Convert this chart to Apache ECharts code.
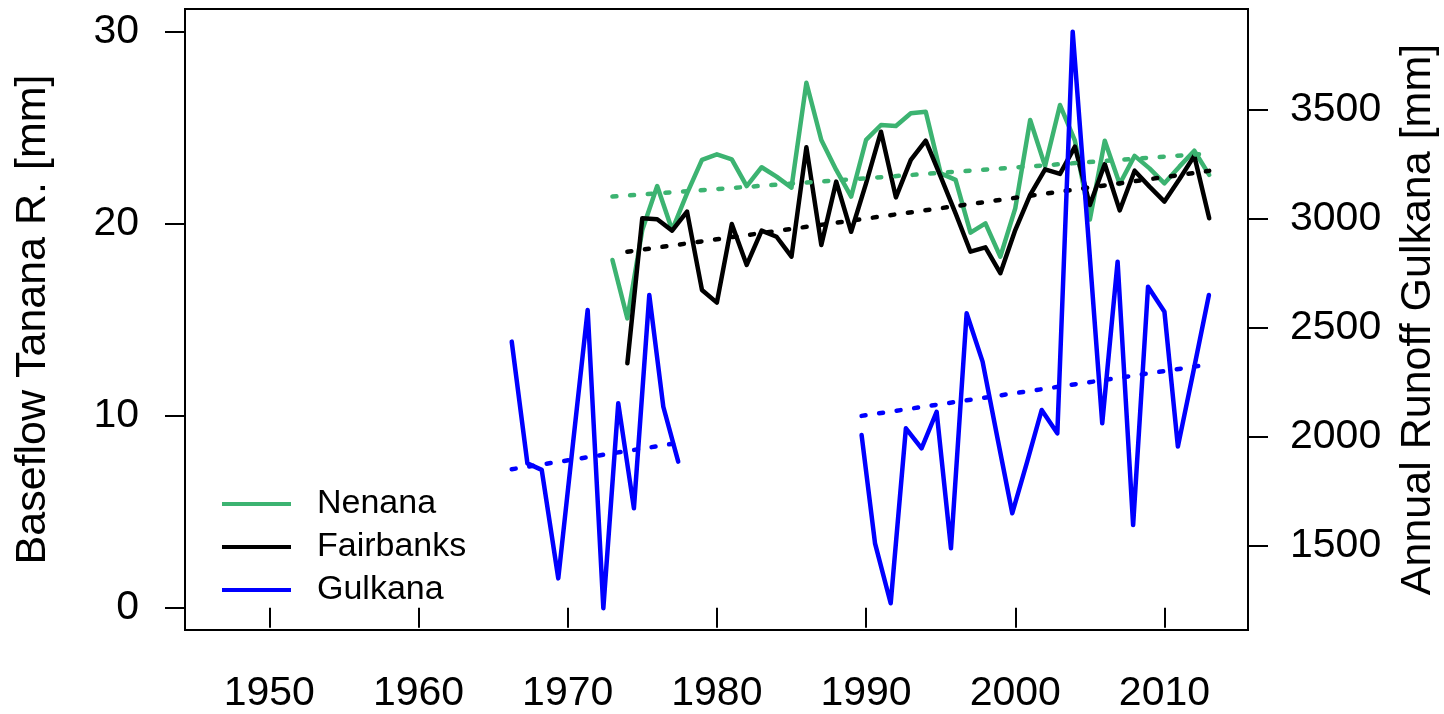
<!DOCTYPE html>
<html><head><meta charset="utf-8">
<script src="https://cdn.jsdelivr.net/npm/echarts@6/dist/echarts.min.js"></script>
<style>html,body{margin:0;padding:0;background:#fff}#c{width:1444px;height:714px}</style>
</head><body><div id="c"></div>
<script>
// ---- data ----
const nenanaYears = [1973,1974,1975,1976,1977,1978,1979,1980,1981,1982,1983,1984,1985,1986,1987,1988,1989,1990,1991,1992,1993,1994,1995,1996,1997,1998,1999,2000,2001,2002,2003,2004,2005,2006,2007,2008,2009,2010,2011,2012,2013];
const nenana = [18.11,15.07,19.67,21.96,19.67,21.58,23.32,23.61,23.35,21.96,22.94,22.45,21.88,27.34,24.36,22.8,21.41,24.36,25.14,25.09,25.75,25.83,22.62,22.28,19.53,20.02,18.28,20.8,25.4,23.0,26.18,24.32,20.22,24.32,22.07,23.53,22.88,22.1,22.97,23.8,22.54];
const fairbanksYears = [1974,1975,1976,1977,1978,1979,1980,1981,1982,1983,1984,1985,1986,1987,1988,1989,1990,1991,1992,1993,1994,1995,1996,1997,1998,1999,2000,2001,2002,2003,2004,2005,2006,2007,2008,2009,2010,2011,2012,2013];
const fairbanks = [12.73,20.28,20.23,19.64,20.63,16.55,15.89,19.98,17.85,19.64,19.32,18.28,23.98,18.89,22.19,19.58,22.1,24.79,21.37,23.32,24.32,22.45,20.54,18.54,18.77,17.42,19.67,21.5,22.83,22.59,24.01,20.97,23.11,20.69,22.76,21.93,21.15,22.31,23.53,20.28];
const gulkanaYears1 = [1966.25,1967.3,1968.26,1969.37,1970.35,1971.34,1972.39,1973.39,1974.44,1975.47,1976.41,1977.41];
const gulkana1 = [2437,1878,1848,1350,1966,2582,1213,2154,1672,2651,2138,1886];
const gulkanaYears2 = [1989.7,1990.6,1991.65,1992.67,1993.72,1994.73,1995.69,1996.74,1997.81,1998.8,1999.8,2000.8,2001.77,2002.82,2003.85,2004.85,2005.83,2006.86,2007.9,2008.9,2010.0,2010.9,2011.95,2012.98];
const gulkana2 = [2008,1511,1236,2039,1947,2115,1488,2567,2345,1997,1649,1886,2123,2016,3860,2961,2062,2804,1595,2689,2574,1955,2303,2651];
// trend line end points
const nenanaTrendYears = [1973, 2013];
const nenanaTrend = [21.41, 23.66];
const fairbanksTrendYears = [1974, 2013];
const fairbanksTrend = [18.54, 22.75];
const gulkanaTrend1Years = [1966.25, 1977.41];
const gulkanaTrend1 = [1851, 1972];
const gulkanaTrend2Years = [1989.7, 2012.98];
const gulkanaTrend2 = [2096, 2332];
// tick labels
const xTicks = [1950,1960,1970,1980,1990,2000,2010];
const leftTicks = [0,10,20,30];
const rightTicks = [1500,2000,2500,3000,3500];

const FONT = "'Liberation Sans', Arial, sans-serif";
const GREEN = '#3CB371', BLACK = '#000000', BLUE = '#0000FF';
const zip = (xs, ys) => xs.map((x, i) => [x, ys[i]]);
const gulkanaData = zip(gulkanaYears1, gulkana1).concat([[1983, '-']], zip(gulkanaYears2, gulkana2));
const plain = (v) => String(v);

const solid = (c) => ({color: c, width: 4.5, cap: 'round', join: 'round'});
const dotted = (c) => ({color: c, width: 4.5, type: [4, 13.7], cap: 'round'});

const chart = echarts.init(document.getElementById('c'), null, {renderer: 'canvas'});
chart.setOption({
  animation: false,
  backgroundColor: '#fff',
  grid: {left: 185, right: 196, top: 9, bottom: 84, show: true, borderColor: '#000', borderWidth: 2, backgroundColor: 'transparent', outerBoundsMode: 'none', containLabel: false},
  legend: {
    data: ['Nenana', 'Fairbanks', 'Gulkana'],
    orient: 'vertical', left: 217, top: 482, itemGap: 9,
    itemWidth: 69, itemHeight: 4, icon: 'rect',
    textStyle: {fontSize: 34, fontFamily: FONT, color: '#000', lineHeight: 34, padding: [0, 0, 0, 21]},
    selectedMode: false
  },
  xAxis: {
    type: 'value', min: 1944.35, max: 2015.6,
    axisLine: {show: false},
    splitLine: {show: false},
    axisTick: {show: true, length: 20, lineStyle: {color: '#000', width: 2}, customValues: xTicks},
    axisLabel: {customValues: xTicks, formatter: plain, fontSize: 41, fontFamily: FONT, color: '#000', margin: 43}
  },
  yAxis: [
    {
      type: 'value', min: -1.16, max: 31.18, position: 'left',
      name: 'Baseflow Tanana R. [mm]', nameLocation: 'middle', nameGap: 130,
      nameTextStyle: {fontSize: 43, fontFamily: FONT, color: '#000'},
      axisLine: {show: false}, splitLine: {show: false},
      axisTick: {show: true, length: 20, lineStyle: {color: '#000', width: 2}, customValues: leftTicks},
      axisLabel: {customValues: leftTicks, formatter: plain, fontSize: 41, fontFamily: FONT, color: '#000', margin: 46}
    },
    {
      type: 'value', min: 1113, max: 3964, position: 'right',
      name: 'Annual Runoff Gulkana [mm]', nameLocation: 'middle', nameGap: 149,
      nameTextStyle: {fontSize: 43, fontFamily: FONT, color: '#000'},
      axisLine: {show: false}, splitLine: {show: false},
      axisTick: {show: true, length: 20, lineStyle: {color: '#000', width: 2}, customValues: rightTicks},
      axisLabel: {customValues: rightTicks, formatter: plain, fontSize: 41, fontFamily: FONT, color: '#000', margin: 42}
    }
  ],
  series: [
    {name: 'Nenana', type: 'line', yAxisIndex: 0, data: zip(nenanaYears, nenana), showSymbol: false, color: GREEN, lineStyle: solid(GREEN), z: 3},
    {name: 'Fairbanks', type: 'line', yAxisIndex: 0, data: zip(fairbanksYears, fairbanks), showSymbol: false, color: BLACK, lineStyle: solid(BLACK), z: 3},
    {name: 'Gulkana', type: 'line', yAxisIndex: 1, data: gulkanaData, connectNulls: false, showSymbol: false, color: BLUE, lineStyle: solid(BLUE), z: 4},
    {name: 'NenanaTrend', type: 'line', yAxisIndex: 0, data: zip(nenanaTrendYears, nenanaTrend), showSymbol: false, color: GREEN, lineStyle: dotted(GREEN), z: 3},
    {name: 'FairbanksTrend', type: 'line', yAxisIndex: 0, data: zip(fairbanksTrendYears, fairbanksTrend), showSymbol: false, color: BLACK, lineStyle: dotted(BLACK), z: 3},
    {name: 'GulkanaTrend1', type: 'line', yAxisIndex: 1, data: zip(gulkanaTrend1Years, gulkanaTrend1), showSymbol: false, color: BLUE, lineStyle: dotted(BLUE), z: 4},
    {name: 'GulkanaTrend2', type: 'line', yAxisIndex: 1, data: zip(gulkanaTrend2Years, gulkanaTrend2), showSymbol: false, color: BLUE, lineStyle: dotted(BLUE), z: 4}
  ]
});
</script>
</body></html>
